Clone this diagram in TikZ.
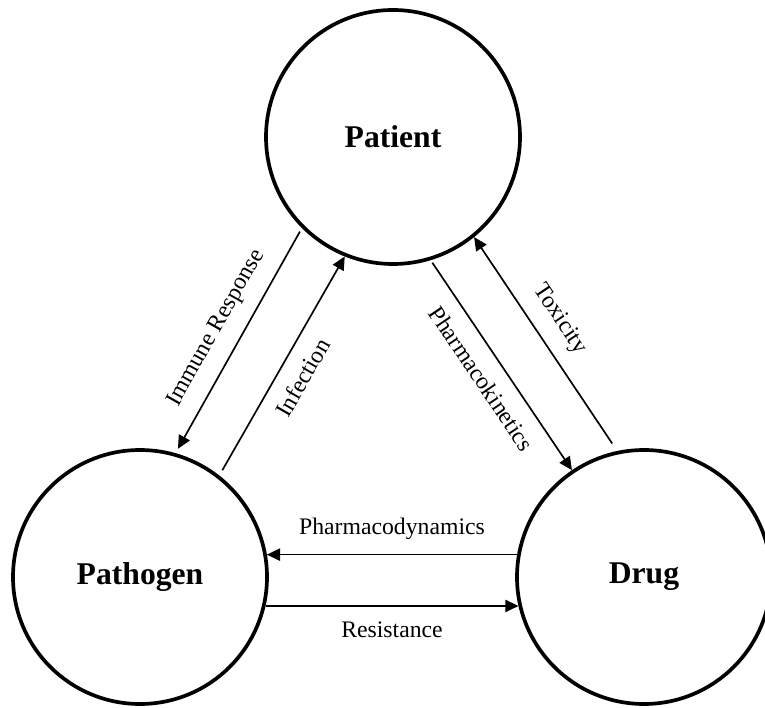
\documentclass[tikz,border=0pt]{standalone}
\usepackage{fontspec}
\setmainfont{Liberation Serif}
\usetikzlibrary{shapes,arrows.meta,positioning,calc}

\begin{document}
\begin{tikzpicture}[
    entity/.style={circle, draw, line width=2.1pt, minimum size=5.08cm, inner sep=0pt, font=\fontsize{18}{20}\selectfont\bfseries},
    arrow/.style={-{Triangle[length=7.5pt,width=7pt]}, line width=0.95pt},
    lbl/.style={font=\fontsize{13.5}{15}\selectfont, inner sep=8.5pt, text height=9.2pt, text depth=2.5pt}
]
\useasboundingbox (0,0) rectangle (15.3,14.14);

% Entities
\node[entity] (patient) at (7.86,11.40) {Patient};
\node[entity] (pathogen) at (2.80,2.60) {Pathogen};
\node[entity] (drug) at (12.88,2.60) {Drug};

% Patient -- Pathogen
\draw[arrow, shorten <=0.08cm, shorten >=0.1cm] (patient.225.6) -- node[lbl, midway, above, sloped] {Immune Response} (pathogen.74);
\draw[arrow, shorten <=0.12cm] (pathogen.52.5) -- node[lbl, midway, below, sloped] {Infection} (patient.248.2);

% Patient -- Drug
\draw[arrow, shorten <=0.06cm] (patient.287.6) -- node[lbl, midway, below, sloped] {Pharmacokinetics} (drug.124.7);
\draw[arrow, shorten <=0.18cm] (drug.102.9) -- node[lbl, pos=0.55, above, sloped] {Toxicity} (patient.309.7);

% Drug -- Pathogen
\draw[arrow] (drug.170) -- node[lbl, midway, above] {Pharmacodynamics} (pathogen.10);
\draw[arrow] (pathogen.-13.7) -- node[lbl, midway, below] {Resistance} (drug.193.7);

\end{tikzpicture}
\end{document}
